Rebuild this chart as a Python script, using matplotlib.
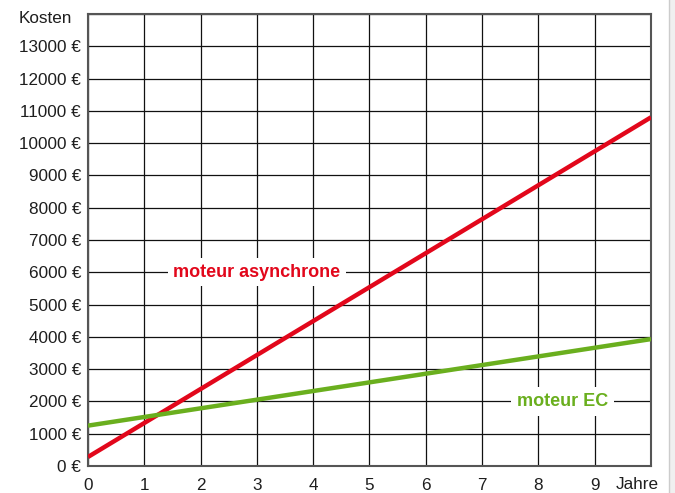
import matplotlib
matplotlib.use('Agg')
import matplotlib.pyplot as plt
from matplotlib.patches import Rectangle

plt.rcParams['font.family'] = ['Liberation Sans', 'DejaVu Sans']

# data
years = [0, 10]
cost_async = [280, 10800]
cost_ec = [1250, 3930]
y_ticks = list(range(0, 14000, 1000))
y_labels = [f'{v} €' for v in y_ticks]
x_ticks = list(range(0, 10))

red = '#e2071b'
green = '#6aaf1e'
txt = '#1e1e1e'

fig = plt.figure(figsize=(6.75, 4.93), dpi=100)
ax = fig.add_axes([0.1304, 0.0548, 0.834, 0.9168])

ax.set_xlim(0, 10)
ax.set_ylim(0, 14000)
ax.set_xticks(range(0, 11))
ax.set_yticks(range(0, 15000, 1000))
ax.grid(True, color='#111111', linewidth=0.9)
ax.set_axisbelow(True)
ax.tick_params(axis='y', length=0, pad=5, labelsize=12.3, colors=txt)
ax.tick_params(axis='x', length=0, pad=9, labelsize=12.3, colors=txt)
ax.set_xticklabels([str(v) for v in x_ticks] + [''])
ax.set_yticklabels(y_labels + [''])
for sp in ax.spines.values():
    sp.set_color('#555555')
    sp.set_linewidth(1.5)

ax.plot(years, cost_async, color=red, linewidth=3.2, solid_capstyle='butt', zorder=3)
ax.plot(years, cost_ec, color=green, linewidth=3.2, solid_capstyle='butt', zorder=3)

ax.text(3.0, 6000, 'moteur asynchrone', color=red, fontsize=13, fontweight='bold',
        ha='center', va='center', zorder=4,
        bbox=dict(facecolor='white', edgecolor='none', pad=4))
ax.text(8.43, 2000, 'moteur EC', color=green, fontsize=13, fontweight='bold',
        ha='center', va='center', zorder=4,
        bbox=dict(facecolor='white', edgecolor='none', pad=4))

ax.text(-0.28, 13850, 'Kosten', ha='right', va='center', fontsize=12.3, color=txt)
ax.text(9.75, -560, 'Jahre', ha='center', va='center', fontsize=12.3, color=txt)

# light strip on the right edge
fig.patches.append(Rectangle((669 / 675, 0), 6 / 675, 1, transform=fig.transFigure,
                             facecolor='#f0f0f0', edgecolor='none'))
fig.lines.append(plt.Line2D([669 / 675, 669 / 675], [0, 1], transform=fig.transFigure,
                            color='#cccccc', linewidth=1))

fig.savefig('out.png', dpi=100, facecolor='white')
